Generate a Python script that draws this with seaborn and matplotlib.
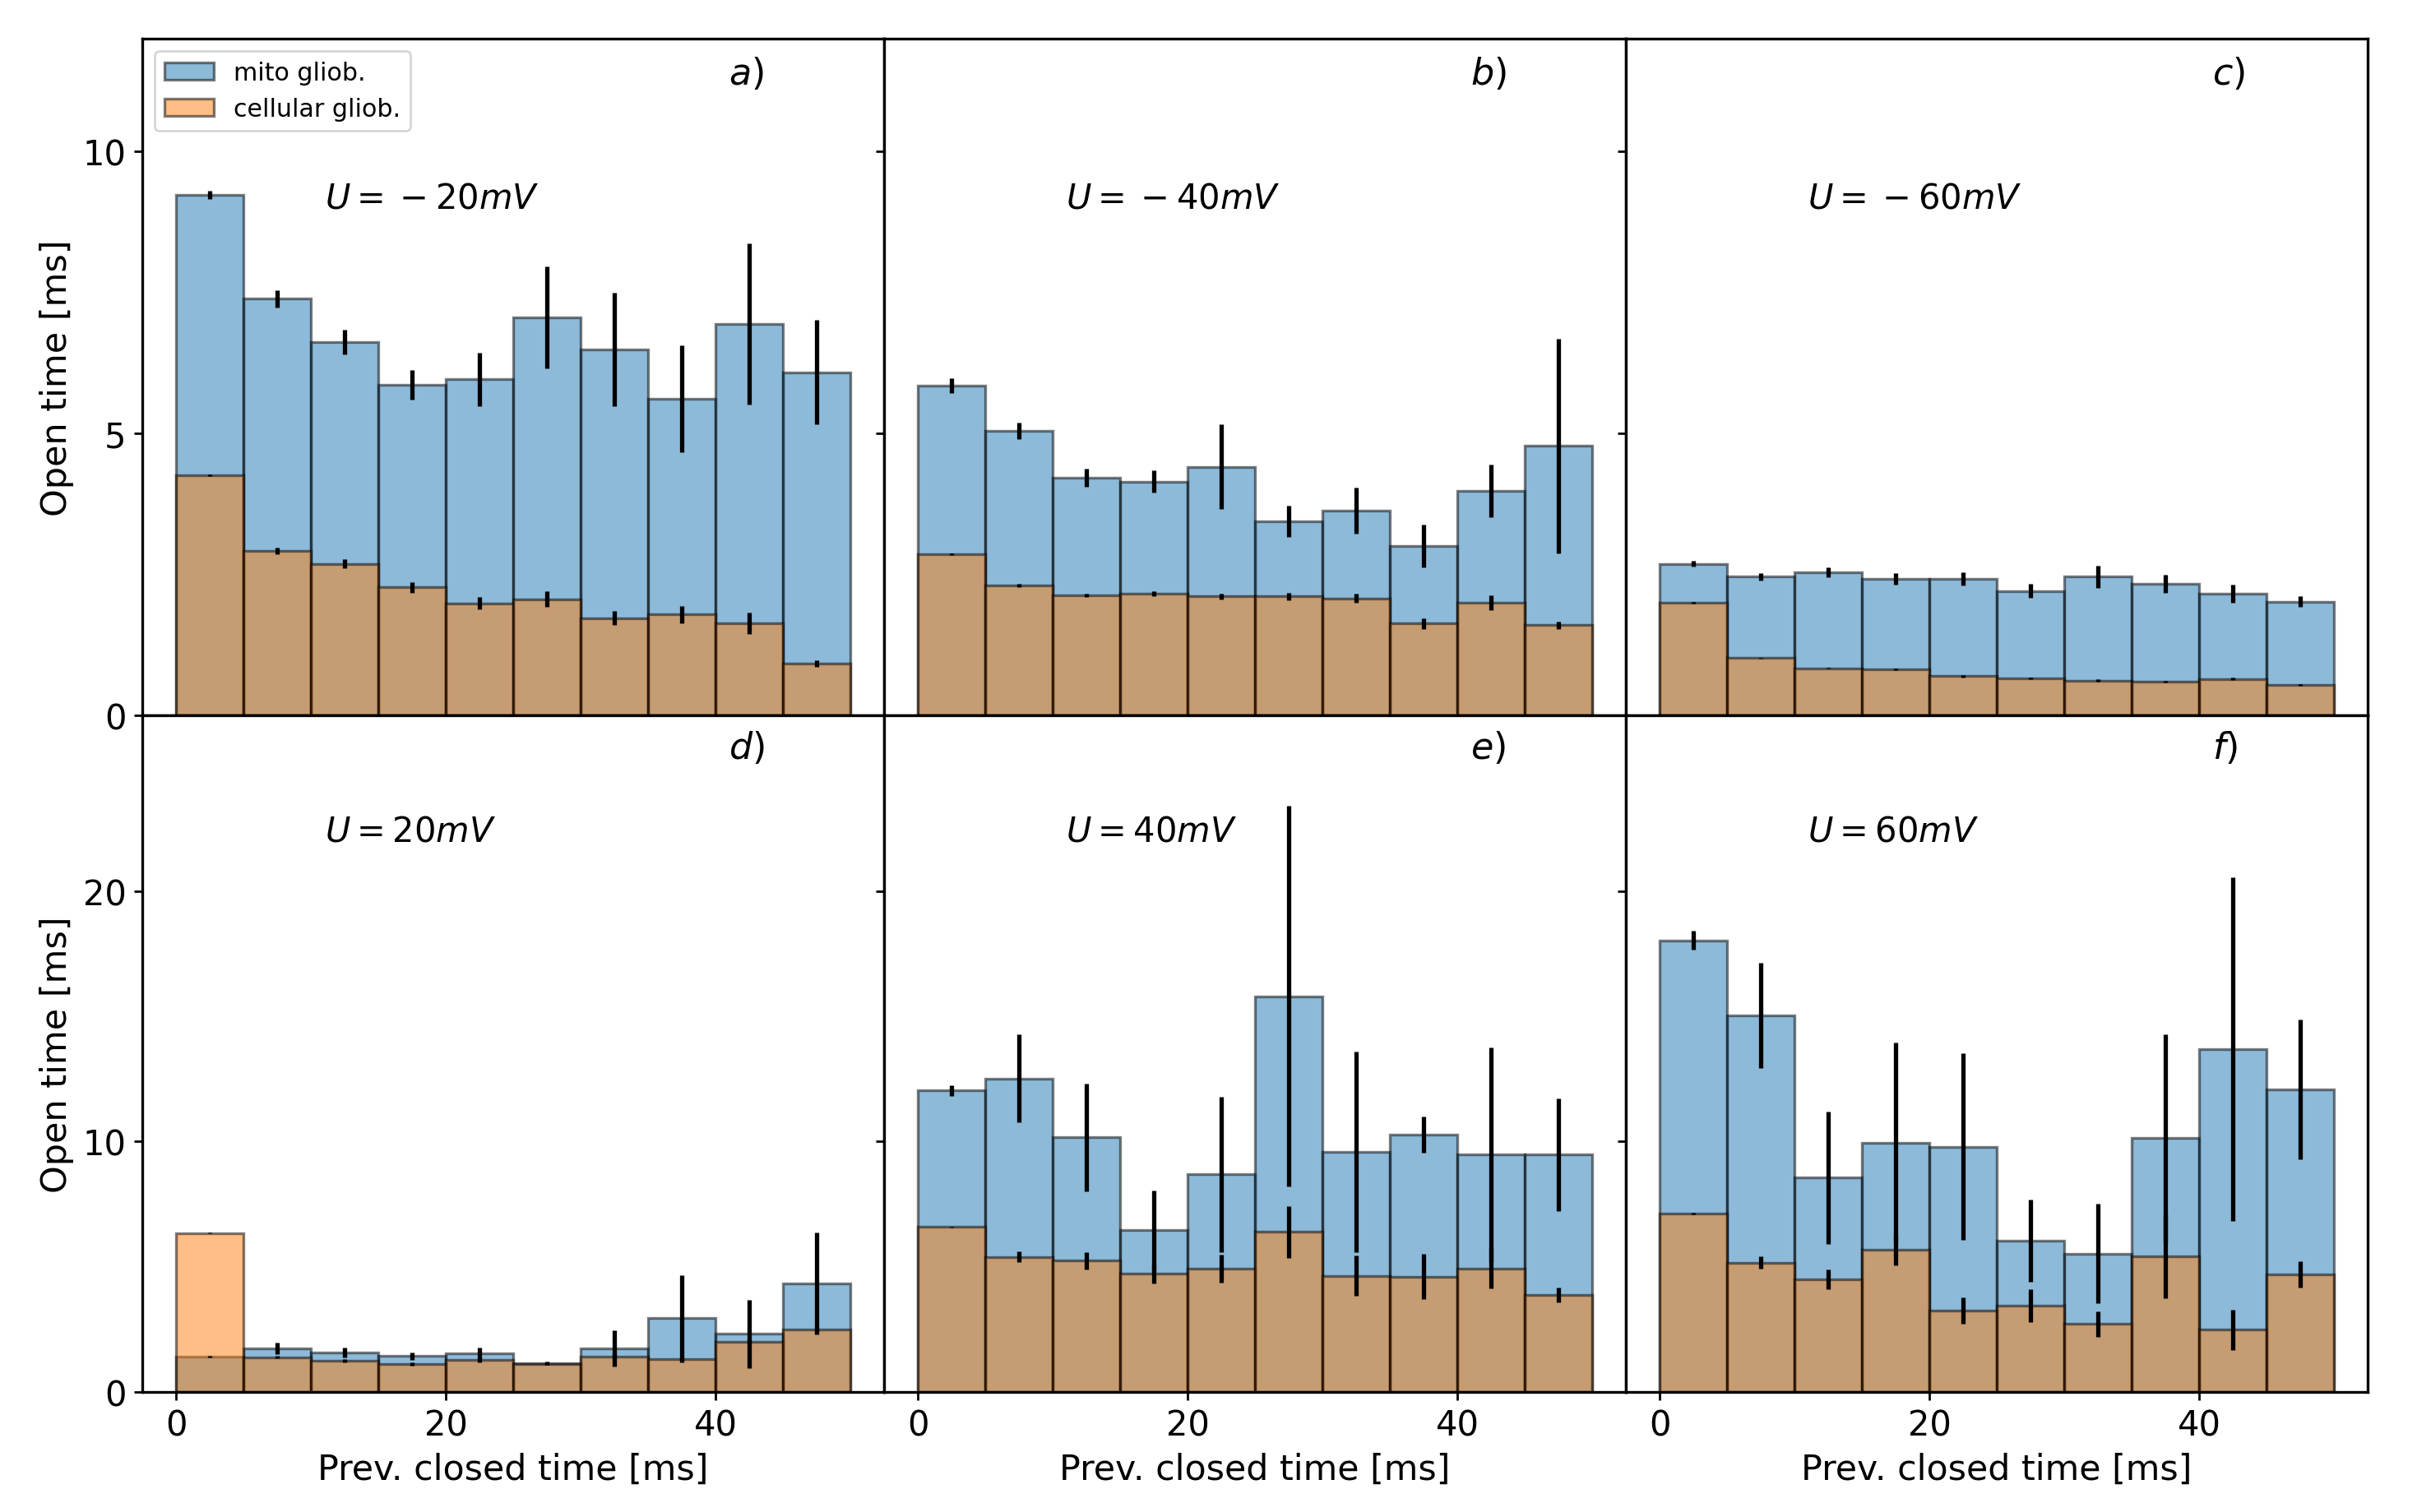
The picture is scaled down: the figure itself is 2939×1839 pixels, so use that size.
import numpy as np
import pandas as pd
import matplotlib
matplotlib.use('Agg')
import matplotlib.pyplot as plt
import seaborn as sns
from matplotlib.patches import Patch

# bins of the previous closed time [ms]
edges = [0, 5, 10, 15, 20, 25, 30, 35, 40, 45, 50]
centers = [2.5, 7.5, 12.5, 17.5, 22.5, 27.5, 32.5, 37.5, 42.5, 47.5]

# mean open time [ms] and its error, mito glioblastoma
mito_m20 = [9.23, 7.39, 6.62, 5.86, 5.96, 7.06, 6.49, 5.62, 6.94, 6.09]
mito_m20_err = [0.07, 0.15, 0.22, 0.26, 0.47, 0.90, 1.00, 0.95, 1.43, 0.93]
mito_m40 = [5.85, 5.05, 4.21, 4.15, 4.41, 3.44, 3.63, 3.00, 3.98, 4.78]
mito_m40_err = [0.13, 0.15, 0.16, 0.20, 0.75, 0.28, 0.41, 0.38, 0.47, 1.90]
mito_m60 = [2.69, 2.46, 2.54, 2.42, 2.42, 2.21, 2.46, 2.33, 2.16, 2.02]
mito_m60_err = [0.05, 0.07, 0.09, 0.10, 0.12, 0.12, 0.20, 0.16, 0.16, 0.09]
mito_p20 = [1.42, 1.74, 1.57, 1.44, 1.55, 1.16, 1.75, 2.96, 2.32, 4.33]
mito_p20_err = [0.03, 0.22, 0.20, 0.15, 0.22, 0.06, 0.72, 1.70, 1.37, 2.03]
mito_p40 = [12.03, 12.51, 10.16, 6.45, 8.69, 15.79, 9.57, 10.27, 9.47, 9.47]
mito_p40_err = [0.22, 1.75, 2.15, 1.60, 3.10, 7.60, 4.00, 0.72, 4.27, 2.25]
mito_p60 = [18.03, 15.03, 8.56, 9.96, 9.79, 6.04, 5.52, 10.14, 13.68, 12.09]
mito_p60_err = [0.38, 2.10, 2.64, 4.00, 3.73, 1.65, 1.98, 4.15, 6.86, 2.79]

# mean open time [ms] and its error, cellular glioblastoma
cell_m20 = [4.26, 2.92, 2.69, 2.27, 1.99, 2.06, 1.73, 1.79, 1.63, 0.92]
cell_m20_err = [0.02, 0.06, 0.08, 0.09, 0.11, 0.14, 0.13, 0.15, 0.19, 0.06]
cell_m40 = [2.86, 2.31, 2.13, 2.16, 2.11, 2.11, 2.08, 1.63, 2.00, 1.60]
cell_m40_err = [0.01, 0.03, 0.03, 0.05, 0.05, 0.06, 0.08, 0.09, 0.13, 0.06]
cell_m60 = [2.00, 1.02, 0.84, 0.82, 0.70, 0.66, 0.62, 0.60, 0.65, 0.54]
cell_m60_err = [0.01, 0.01, 0.01, 0.01, 0.02, 0.02, 0.02, 0.02, 0.02, 0.01]
cell_p20 = [6.35, 1.39, 1.24, 1.13, 1.27, 1.13, 1.40, 1.31, 2.01, 2.48]
cell_p20_err = [0.02, 0.05, 0.06, 0.07, 0.10, 0.06, 0.10, 0.12, 0.10, 0.10]
cell_p40 = [6.59, 5.40, 5.24, 4.74, 4.93, 6.39, 4.64, 4.60, 4.93, 3.88]
cell_p40_err = [0.02, 0.20, 0.34, 0.39, 0.55, 1.04, 0.80, 0.90, 0.80, 0.30]
cell_p60 = [7.13, 5.17, 4.50, 5.69, 3.24, 3.45, 2.71, 5.42, 2.48, 4.70]
cell_p60_err = [0.03, 0.24, 0.38, 0.62, 0.52, 0.66, 0.50, 1.68, 0.79, 0.53]

panels = [
    (mito_m20, mito_m20_err, cell_m20, cell_m20_err, r'$U=\:-\:20mV$', r'$a)$'),
    (mito_m40, mito_m40_err, cell_m40, cell_m40_err, r'$U=\:-\:40mV$', r'$b)$'),
    (mito_m60, mito_m60_err, cell_m60, cell_m60_err, r'$U=\:-\:60mV$', r'$c)$'),
    (mito_p20, mito_p20_err, cell_p20, cell_p20_err, r'$U=20mV$', r'$d)$'),
    (mito_p40, mito_p40_err, cell_p40, cell_p40_err, r'$U=40mV$', r'$e)$'),
    (mito_p60, mito_p60_err, cell_p60, cell_p60_err, r'$U=60mV$', r'$f)$'),
]

blue = '#1f77b4'
orange = '#ff7f0e'

plt.rcParams['axes.linewidth'] = 1.2
plt.rcParams['xtick.major.width'] = 1.0
plt.rcParams['ytick.major.width'] = 1.0

fig, axes = plt.subplots(2, 3, sharex=True, sharey='row', figsize=(14.695, 9.2), dpi=200)
fig.subplots_adjust(left=0.0589, right=0.9796, top=0.9738, bottom=0.0793, wspace=0, hspace=0)

for i, (mm, me, cm, ce, utxt, ptxt) in enumerate(panels):
    ax = axes.flat[i]
    df = pd.DataFrame({'t': centers, 'mito': mm, 'cell': cm})
    sns.histplot(data=df, x='t', weights='mito', bins=edges, ax=ax, color=blue, alpha=0.5,
                 edgecolor=(0, 0, 0, 0.5), linewidth=1.2)
    sns.histplot(data=df, x='t', weights='cell', bins=edges, ax=ax, color=orange, alpha=0.5,
                 edgecolor=(0, 0, 0, 0.5), linewidth=1.2)
    ax.errorbar(centers, mm, yerr=me, fmt='none', ecolor='k', elinewidth=1.9, capsize=0)
    ax.errorbar(centers, cm, yerr=ce, fmt='none', ecolor='k', elinewidth=1.9, capsize=0)
    if i < 3:
        ax.text(11, 9.0, utxt, fontsize=15)
        ax.text(41, 11.2, ptxt, fontsize=16)
    else:
        ax.text(11, 22.0, utxt, fontsize=15)
        ax.text(41, 25.3, ptxt, fontsize=16)
    ax.tick_params(labelsize=15)
    ax.set_ylabel('')
    ax.set_xlabel('')
    if i >= 3:
        ax.set_xlabel('Prev. closed time [ms]', fontsize=15.4)
    if i % 3 == 0:
        ax.set_ylabel('Open time [ms]', fontsize=15.5)

axes[0, 0].set_ylim(0, 12)
axes[1, 0].set_ylim(0, 27)
axes[0, 0].set_yticks([0, 5, 10])
axes[1, 0].set_yticks([0, 10, 20])
axes[1, 0].set_xticks([0, 20, 40])
axes[1, 0].set_xlim(-2.5, 52.5)

handles = [
    Patch(facecolor=matplotlib.colors.to_rgba(blue, 0.5), edgecolor=(0, 0, 0, 0.5), linewidth=1.2, label='mito gliob.'),
    Patch(facecolor=matplotlib.colors.to_rgba(orange, 0.5), edgecolor=(0, 0, 0, 0.5), linewidth=1.2, label='cellular gliob.'),
]
axes[0, 0].legend(handles=handles, loc='upper left', fontsize=10.8)

plt.savefig('out.png', dpi=200)
